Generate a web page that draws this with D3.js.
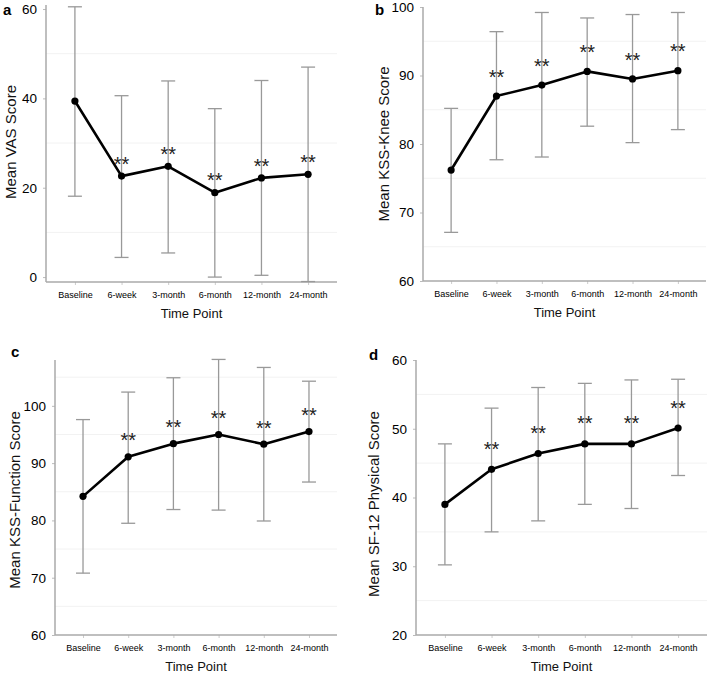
<!DOCTYPE html>
<html>
<head>
<meta charset="utf-8">
<script src="https://cdn.jsdelivr.net/npm/d3@7"></script>
<style>
  html, body { margin: 0; padding: 0; background: #fff; }
  svg { display: block; font-family: "Liberation Sans", Arial, sans-serif; }
</style>
</head>
<body>
<svg id="chart" width="708" height="673"></svg>
<script>
// ---------- data ----------
const timePoints = ["Baseline", "6-week", "3-month", "6-month", "12-month", "24-month"];
const significant = [false, true, true, true, true, true];

const vasMean  = [39.4, 22.6, 24.8, 18.9, 22.2, 23.0];
const vasUpper = [60.5, 40.6, 43.9, 37.7, 44.0, 47.0];
const vasLower = [18.1, 4.4, 5.4, 0.0, 0.4, -1.0];

const kneeMean  = [76.2, 87.0, 88.6, 90.6, 89.5, 90.7];
const kneeUpper = [85.2, 96.4, 99.2, 98.4, 98.9, 99.2];
const kneeLower = [67.1, 77.7, 78.1, 82.6, 80.2, 82.1];

const funcMean  = [84.2, 91.1, 93.4, 95.0, 93.3, 95.5];
const funcUpper = [97.6, 102.4, 104.9, 108.1, 106.7, 104.3];
const funcLower = [70.8, 79.5, 81.9, 81.8, 79.9, 86.7];

const sfMean  = [39.0, 44.1, 46.4, 47.8, 47.8, 50.1];
const sfUpper = [47.8, 53.0, 56.0, 56.6, 57.1, 57.2];
const sfLower = [30.2, 35.0, 36.6, 39.0, 38.4, 43.2];

const vasTicks  = [0, 20, 40, 60];
const kneeTicks = [60, 70, 80, 90, 100];
const funcTicks = [60, 70, 80, 90, 100];
const sfTicks   = [20, 30, 40, 50, 60];

const vasGrid  = [10, 30, 50];
const kneeGrid = [65, 75, 85, 95];
const funcGrid = [65, 75, 85, 95, 105];
const sfGrid   = [25, 35, 45, 55];

const panelLetters = ["a", "b", "c", "d"];
const yTitles = ["Mean VAS Score", "Mean KSS-Knee Score", "Mean KSS-Function Score", "Mean SF-12 Physical Score"];
const xTitle = "Time Point";

// ---------- layout ----------
const panels = [
  { letter: panelLetters[0], title: yTitles[0], mean: vasMean, upper: vasUpper, lower: vasLower,
    ticks: vasTicks, grid: vasGrid, domain: [-1.1, 60.9], yRange: [282, 5], xRange: [46, 337],
    letterPos: [3, 15], titleX: 16, titleY: 142, starOff: 17 },
  { letter: panelLetters[1], title: yTitles[1], mean: kneeMean, upper: kneeUpper, lower: kneeLower,
    ticks: kneeTicks, grid: kneeGrid, domain: [60, 100], yRange: [281, 7], xRange: [423, 706],
    letterPos: [375, 15], titleX: 389, titleY: 144, starOff: 24 },
  { letter: panelLetters[2], title: yTitles[2], mean: funcMean, upper: funcUpper, lower: funcLower,
    ticks: funcTicks, grid: funcGrid, domain: [60, 108], yRange: [635, 360], xRange: [55, 337],
    letterPos: [11, 357], titleX: 20, titleY: 500, starOff: 21 },
  { letter: panelLetters[3], title: yTitles[3], mean: sfMean, upper: sfUpper, lower: sfLower,
    ticks: sfTicks, grid: sfGrid, domain: [20, 60], yRange: [635, 360], xRange: [416, 707],
    letterPos: [369, 360], titleX: 379, titleY: 504, starOff: 25 }
];

const svg = d3.select("#chart");

panels.forEach(p => {
  const g = svg.append("g");
  const x = d3.scalePoint().domain(timePoints).range(p.xRange).padding(0.62);
  const y = d3.scaleLinear().domain(p.domain).range(p.yRange);
  const rows = timePoints.map((t, i) => ({ t, m: p.mean[i], u: p.upper[i], l: p.lower[i], s: significant[i] }));

  // gridlines
  g.selectAll(".grid").data(p.grid).enter().append("line")
    .attr("x1", p.xRange[0]).attr("x2", p.xRange[1])
    .attr("y1", d => y(d)).attr("y2", d => y(d))
    .attr("stroke", "#f2f2f2").attr("stroke-width", 1);

  // y axis
  const yAxis = d3.axisLeft(y).tickValues(p.ticks).tickSize(3).tickPadding(6);
  const ya = g.append("g").attr("transform", `translate(${p.xRange[0]},0)`).call(yAxis);
  ya.select(".domain").remove();
  ya.selectAll(".tick line").attr("stroke", "#bbb");
  ya.selectAll(".tick text").attr("font-size", 13.5).attr("fill", "#000")
    .attr("font-family", "Liberation Sans, Arial, sans-serif");
  g.append("line").attr("x1", p.xRange[0]).attr("x2", p.xRange[0])
    .attr("y1", p.yRange[0]).attr("y2", p.yRange[1])
    .attr("stroke", "#aaa").attr("stroke-width", 1.5);

  // x axis
  const xAxis = d3.axisBottom(x).tickSize(3).tickPadding(7);
  const xa = g.append("g").attr("transform", `translate(0,${p.yRange[0]})`).call(xAxis);
  xa.select(".domain").remove();
  xa.selectAll(".tick line").attr("stroke", "#ccc");
  xa.selectAll(".tick text").attr("font-size", 9).attr("fill", "#000")
    .attr("font-family", "Liberation Sans, Arial, sans-serif");
  g.append("line").attr("x1", p.xRange[0]).attr("x2", p.xRange[1])
    .attr("y1", p.yRange[0]).attr("y2", p.yRange[0])
    .attr("stroke", "#aaa").attr("stroke-width", 1.5);

  // error bars
  const eb = g.selectAll(".eb").data(rows).enter().append("g");
  eb.append("line").attr("x1", d => x(d.t)).attr("x2", d => x(d.t))
    .attr("y1", d => y(d.u)).attr("y2", d => y(d.l))
    .attr("stroke", "#999").attr("stroke-width", 1.3);
  [ "u", "l" ].forEach(k => {
    eb.append("line").attr("x1", d => x(d.t) - 7).attr("x2", d => x(d.t) + 7)
      .attr("y1", d => y(d[k])).attr("y2", d => y(d[k]))
      .attr("stroke", "#999").attr("stroke-width", 1.3);
  });

  // mean line
  g.append("path").datum(rows)
    .attr("d", d3.line().x(d => x(d.t)).y(d => y(d.m)))
    .attr("fill", "none").attr("stroke", "#000").attr("stroke-width", 2.6)
    .attr("stroke-linejoin", "round");
  g.selectAll(".pt").data(rows).enter().append("circle")
    .attr("cx", d => x(d.t)).attr("cy", d => y(d.m)).attr("r", 3.6).attr("fill", "#000");

  // significance stars
  const fs = 20;
  g.selectAll(".star").data(rows.filter(d => d.s)).enter().append("text")
    .attr("x", d => x(d.t)).attr("y", d => y(d.m) - p.starOff + fs * 0.58)
    .attr("text-anchor", "middle").attr("font-size", fs).attr("fill", "#222")
    .text("**");

  // panel letter
  g.append("text").attr("x", p.letterPos[0]).attr("y", p.letterPos[1])
    .attr("font-size", 15).attr("font-weight", "bold").attr("fill", "#000").text(p.letter);

  // y title
  g.append("text").attr("transform", `translate(${p.titleX},${p.titleY}) rotate(-90)`)
    .attr("text-anchor", "middle").attr("font-size", 15).attr("fill", "#111").text(p.title);

  // x title
  g.append("text").attr("x", (p.xRange[0] + p.xRange[1]) / 2).attr("y", p.yRange[0] + 36)
    .attr("text-anchor", "middle").attr("font-size", 13).attr("fill", "#111").text(xTitle);
});
</script>
</body>
</html>
